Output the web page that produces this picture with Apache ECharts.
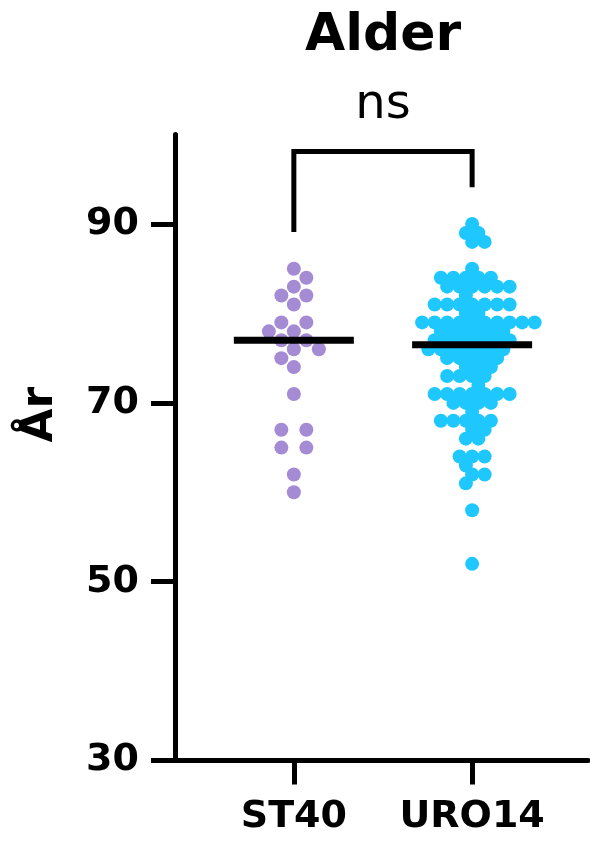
<!DOCTYPE html>
<html style="height: 100%">

<head>
  <meta charset="utf-8">
  <script type="text/javascript" src="https://cdn.jsdelivr.net/npm/echarts@6/dist/echarts.min.js"></script>
</head>

<body style="height: 100%; margin: 0; background: #fff">
  <div id="container" style="width: 590px; height: 842px"></div>
  <script type="text/javascript">
    var groups = ['ST40', 'URO14'];
    var colors = ['#a58ad4', '#1ec8ff'];
    var yTicks = [30, 50, 70, 90];

    // ages per group
    var st40 = [85, 84, 83, 82, 82, 81, 79, 79, 78, 78, 77, 77, 76, 76, 75, 74, 71, 67, 67, 65, 65, 62, 60];
    var uro14 = [90, 89, 89, 88, 88, 85,
      84, 84, 84, 84, 84,
      83, 83, 83, 83, 83, 83,
      82,
      81, 81, 81, 81, 81, 81, 81,
      80, 80,
      79, 79, 79, 79, 79, 79, 79, 79, 79, 79,
      78, 78, 78, 78, 78, 78,
      77, 77, 77, 77, 77, 77, 77,
      76, 76, 76, 76, 76, 76, 76,
      75, 75, 75, 75, 75,
      74, 74, 74,
      73, 73, 73, 73,
      72,
      71, 71, 71, 71, 71, 71, 71,
      70, 70, 70, 70,
      69,
      68, 68, 68, 68, 68,
      67, 67,
      66, 66,
      64, 64, 64,
      63,
      62, 62,
      61, 58, 52];

    var FONT = 'DejaVu Sans';
    var DOT_R = 7;

    function median(arr) {
      var a = arr.slice().sort(function(x, y) { return x - y; });
      var m = Math.floor(a.length / 2);
      return a.length % 2 ? a[m] : (a[m - 1] + a[m]) / 2;
    }

    // simple beeswarm: one row per value, centred, rows next to each other get a half step shift
    function swarm(values, idx, step) {
      var counts = {};
      values.forEach(function(v) { counts[v] = (counts[v] || 0) + 1; });
      var keys = Object.keys(counts).map(Number).sort(function(a, b) { return b - a; });
      var out = [];
      var prev = null;
      var flip = 1;
      keys.forEach(function(v) {
        var k = counts[v];
        var shift = 0;
        var par = (k - 1) % 2;
        if (prev && prev.v - v === 1 && prev.par === par) {
          shift = flip * step / 2;
          flip = -flip;
          par = 1 - par;
        }
        for (var i = 0; i < k; i++) {
          out.push([idx, v, (i - (k - 1) / 2) * step + shift]);
        }
        prev = { v: v, par: par };
      });
      return out;
    }

    var dom = document.getElementById('container');
    var myChart = echarts.init(dom);

    function dotSeries(data, color) {
      return {
        type: 'custom',
        data: data,
        clip: false,
        renderItem: function(params, api) {
          var p = api.coord([api.value(0), api.value(1)]);
          return {
            type: 'circle',
            shape: { cx: p[0] + api.value(2), cy: p[1], r: DOT_R },
            style: { fill: color }
          };
        }
      };
    }

    var medians = [[0, median(st40)], [1, median(uro14)]];

    option = {
      animation: false,
      grid: { left: 175, top: 134.6, width: 413, height: 626 },
      xAxis: {
        type: 'value',
        min: -2 / 3,
        max: 1.65,
        splitLine: { show: false },
        axisLine: { show: true, onZero: false, lineStyle: { color: '#000', width: 5 } },
        axisTick: { show: true, length: 24, lineStyle: { color: '#000', width: 5 }, customValues: [0, 1] },
        axisLabel: {
          customValues: [0, 1],
          margin: 38,
          color: '#000',
          fontFamily: FONT,
          fontWeight: 'bold',
          fontSize: 38,
          formatter: function(v) { return groups[Math.round(v)]; }
        }
      },
      yAxis: {
        type: 'value',
        min: 30,
        max: 100,
        name: 'År',
        nameLocation: 'middle',
        nameGap: 112,
        nameRotate: 90,
        nameTextStyle: { color: '#000', fontFamily: FONT, fontWeight: 'bold', fontSize: 44, padding: [0, 0, 0, 66] },
        splitLine: { show: false },
        axisLine: { show: true, onZero: false, lineStyle: { color: '#000', width: 5 } },
        axisTick: { show: true, length: 24, lineStyle: { color: '#000', width: 5 }, customValues: yTicks },
        axisLabel: {
          customValues: yTicks,
          margin: 36,
          color: '#000',
          fontFamily: FONT,
          fontWeight: 'bold',
          fontSize: 38
        }
      },
      series: [
        dotSeries(swarm(st40, 0, 25), colors[0]),
        dotSeries(swarm(uro14, 1, 12.5), colors[1]),
        {
          type: 'custom',
          data: medians,
          clip: false,
          z: 5,
          renderItem: function(params, api) {
            var p = api.coord([api.value(0), api.value(1)]);
            return {
              type: 'rect',
              shape: { x: p[0] - 60, y: p[1] - 3.5, width: 120, height: 7 },
              style: { fill: '#000' }
            };
          }
        },
        {
          // significance bracket, "ns" and the title
          type: 'custom',
          data: [[0.5, 98.1]],
          clip: false,
          renderItem: function(params, api) {
            var top = api.value(1);
            var a = api.coord([0, 89.1]);
            var b = api.coord([0, top]);
            var c = api.coord([1, top]);
            var d = api.coord([1, 94.1]);
            var ns = api.coord([0.5, 103.2]);
            var ttl = api.coord([0.5, 111]);
            return {
              type: 'group',
              children: [
                {
                  type: 'polyline',
                  shape: { points: [a, b, c, d] },
                  style: { stroke: '#000', lineWidth: 5, fill: null, lineJoin: 'miter' }
                },
                {
                  type: 'text',
                  x: ns[0], y: ns[1],
                  style: { text: 'ns', fill: '#000', font: 'normal 48px "' + FONT + '"', align: 'center', verticalAlign: 'middle' }
                },
                {
                  type: 'text',
                  x: ttl[0], y: ttl[1],
                  style: { text: 'Alder', fill: '#000', font: 'bold 52px "' + FONT + '"', align: 'center', verticalAlign: 'middle' }
                }
              ]
            };
          }
        }
      ]
    };

    myChart.setOption(option);
  </script>
</body>

</html>
